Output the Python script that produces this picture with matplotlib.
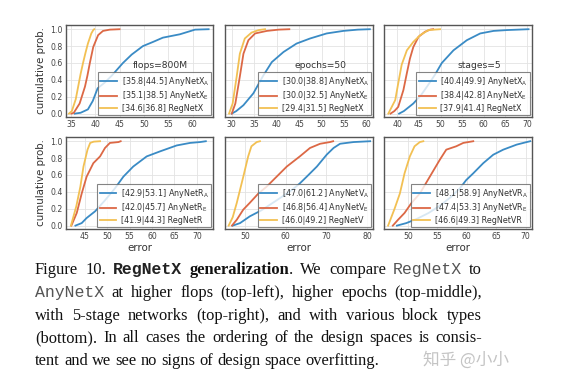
import matplotlib
matplotlib.use("Agg")
import matplotlib.pyplot as plt
from matplotlib.font_manager import FontProperties

W, H = 584, 389

# ---------------- data (error values at cumulative probability levels) ----------------
labels_x = [r"[35.8|44.5] AnyNetX$_\mathrm{A}$", r"[35.1|38.5] AnyNetX$_\mathrm{E}$", "[34.6|36.8] RegNetX"]
flops_xa_err = [35.8, 37.0, 38.5, 39.5, 40.5, 42.0, 43.4, 45.7, 47.5, 49.8, 51.9, 53.9, 57.4, 60.5, 63.3]
flops_xa_prob = [0, 0.01, 0.05, 0.15, 0.3, 0.37, 0.45, 0.6, 0.7, 0.8, 0.85, 0.9, 0.94, 0.995, 1.0]
flops_xe_err = [35.1, 35.6, 36.8, 37.9, 38.4, 38.9, 39.6, 40.6, 41.6, 43.0, 45.0]
flops_xe_prob = [0, 0.01, 0.12, 0.32, 0.45, 0.6, 0.79, 0.93, 0.98, 0.995, 1.0]
flops_reg_err = [34.6, 35.2, 36.0, 36.5, 37.0, 37.5, 38.0, 38.5, 39.2, 39.6, 39.8]
flops_reg_prob = [0, 0.03, 0.17, 0.32, 0.47, 0.6, 0.72, 0.83, 0.95, 0.99, 1.0]

labels_ep = [r"[30.0|38.8] AnyNetX$_\mathrm{A}$", r"[30.0|32.5] AnyNetX$_\mathrm{E}$", "[29.4|31.5] RegNetX"]
ep_xa_err = [30.0, 31.0, 32.6, 34.8, 37.0, 38.9, 41.5, 44.4, 47.4, 51.1, 54.8, 58.0, 60.7]
ep_xa_prob = [0, 0.03, 0.1, 0.24, 0.45, 0.61, 0.73, 0.83, 0.89, 0.95, 0.98, 0.995, 1.0]
ep_xe_err = [30.0, 30.8, 31.8, 32.6, 33.7, 35.2, 37.8, 40.4, 42.8]
ep_xe_prob = [0, 0.12, 0.44, 0.71, 0.87, 0.95, 0.98, 0.995, 1.0]
ep_reg_err = [29.4, 30.2, 31.1, 31.8, 32.9, 34.4, 36.0, 37.4]
ep_reg_prob = [0, 0.12, 0.44, 0.71, 0.89, 0.96, 0.99, 1.0]

labels_st = [r"[40.4|49.9] AnyNetX$_\mathrm{A}$", r"[38.4|42.8] AnyNetX$_\mathrm{E}$", "[37.9|41.4] RegNetX"]
st_xa_err = [40.4, 41.5, 43.7, 45.5, 47.0, 48.7, 50.3, 53.0, 56.1, 59.2, 62.3, 65.4, 70.4]
st_xa_prob = [0, 0.03, 0.12, 0.22, 0.33, 0.46, 0.6, 0.75, 0.87, 0.95, 0.98, 0.99, 1.0]
st_xe_err = [38.4, 39.3, 40.2, 41.4, 42.2, 42.9, 43.7, 44.9, 46.4, 47.6, 48.3]
st_xe_prob = [0, 0.03, 0.08, 0.28, 0.48, 0.65, 0.79, 0.91, 0.97, 0.995, 1.0]
st_reg_err = [37.9, 39.5, 40.2, 41.0, 42.2, 43.7, 45.3, 47.2, 49.9]
st_reg_prob = [0, 0.16, 0.36, 0.58, 0.75, 0.85, 0.93, 0.99, 1.0]

labels_r = [r"[42.9|53.1] AnyNetR$_\mathrm{A}$", r"[42.0|45.7] AnyNetR$_\mathrm{E}$", "[41.9|44.3] RegNetR"]
r_a_err = [42.9, 44.3, 45.4, 47.3, 49.5, 51.7, 53.6, 55.8, 58.8, 61.8, 65.5, 68.5, 70.7, 72.0]
r_a_prob = [0, 0.03, 0.09, 0.17, 0.3, 0.44, 0.58, 0.70, 0.82, 0.88, 0.95, 0.98, 0.99, 1.0]
r_e_err = [42.0, 43.2, 44.3, 45.4, 46.9, 48.4, 49.5, 50.6, 52.5, 53.0]
r_e_prob = [0, 0.15, 0.38, 0.58, 0.74, 0.82, 0.92, 0.98, 0.99, 1.0]
r_reg_err = [41.9, 43.1, 44.0, 44.7, 45.6, 46.2, 47.0, 48.4]
r_reg_prob = [0, 0.23, 0.46, 0.70, 0.90, 0.98, 0.995, 1.0]

labels_v = [r"[47.0|61.2] AnyNetV$_\mathrm{A}$", r"[46.8|56.4] AnyNetV$_\mathrm{E}$", "[46.0|49.2] RegNetV"]
v_a_err = [47.0, 48.8, 51.2, 54.0, 57.5, 61.5, 63.5, 65.2, 67.7, 70.1, 71.8, 73.4, 76.7, 80.8]
v_a_prob = [0, 0.03, 0.11, 0.18, 0.29, 0.42, 0.5, 0.58, 0.70, 0.84, 0.92, 0.97, 0.99, 1.0]
v_e_err = [46.8, 48.0, 49.6, 51.2, 53.3, 55.3, 57.8, 60.3, 63.5, 66.0, 68.5, 70.9, 71.7]
v_e_prob = [0, 0.07, 0.19, 0.27, 0.38, 0.46, 0.58, 0.70, 0.82, 0.92, 0.97, 0.99, 1.0]
v_reg_err = [46.0, 47.0, 48.0, 49.6, 50.8, 51.6, 52.9, 53.7]
v_reg_prob = [0, 0.1, 0.27, 0.58, 0.82, 0.94, 0.99, 1.0]

labels_vr = [r"[48.1|58.9] AnyNetVR$_\mathrm{A}$", r"[47.4|53.3] AnyNetVR$_\mathrm{E}$", "[46.6|49.3] RegNetVR"]
vr_a_err = [48.1, 49.7, 51.5, 53.5, 55.5, 57.3, 58.8, 59.9, 61.1, 62.8, 64.5, 66.2, 68.5, 70.2, 70.8]
vr_a_prob = [0, 0.03, 0.08, 0.15, 0.24, 0.34, 0.44, 0.54, 0.62, 0.74, 0.84, 0.90, 0.96, 0.99, 1.0]
vr_e_err = [47.4, 48.3, 49.4, 50.6, 52.0, 53.7, 55.4, 56.5, 58.2, 59.4, 61.1]
vr_e_prob = [0, 0.07, 0.15, 0.27, 0.38, 0.58, 0.78, 0.90, 0.94, 0.98, 1.0]
vr_reg_err = [46.6, 47.7, 48.6, 49.4, 50.3, 51.1, 52.0, 52.6]
vr_reg_prob = [0, 0.2, 0.38, 0.62, 0.82, 0.94, 0.99, 1.0]

panel_notes = ["flops=800M", "epochs=50", "stages=5", None, None, None]
xticks_list = [[35, 40, 45, 50, 55, 60], [30, 35, 40, 45, 50, 55, 60], [40, 45, 50, 55, 60, 65, 70],
               [45, 50, 55, 60, 65, 70], [50, 60, 70, 80], [50, 55, 60, 65, 70]]
yticks = [0.0, 0.2, 0.4, 0.6, 0.8, 1.0]

# ---------------- layout ----------------
colors = ["#3a8bc5", "#dc6845", "#f2c053"]
xlims = [(34.0, 64.2), (28.5, 61.4), (36.9, 71.2), (40.8, 73.6), (45.1, 81.5), (45.9, 71.1)]
cols_px = [(66, 213), (225, 373), (384, 532)]
rows_px = [(25, 117), (137, 229)]

panels = [
    (labels_x, [(flops_xa_err, flops_xa_prob), (flops_xe_err, flops_xe_prob), (flops_reg_err, flops_reg_prob)]),
    (labels_ep, [(ep_xa_err, ep_xa_prob), (ep_xe_err, ep_xe_prob), (ep_reg_err, ep_reg_prob)]),
    (labels_st, [(st_xa_err, st_xa_prob), (st_xe_err, st_xe_prob), (st_reg_err, st_reg_prob)]),
    (labels_r, [(r_a_err, r_a_prob), (r_e_err, r_e_prob), (r_reg_err, r_reg_prob)]),
    (labels_v, [(v_a_err, v_a_prob), (v_e_err, v_e_prob), (v_reg_err, v_reg_prob)]),
    (labels_vr, [(vr_a_err, vr_a_prob), (vr_e_err, vr_e_prob), (vr_reg_err, vr_reg_prob)]),
]

fig = plt.figure(figsize=(W / 100, H / 100), dpi=100)
fig.patch.set_facecolor("white")

for i, (labels, series) in enumerate(panels):
    r, c = divmod(i, 3)
    x0, x1 = cols_px[c]
    y0, y1 = rows_px[r]
    ax = fig.add_axes([x0 / W, 1 - y1 / H, (x1 - x0) / W, (y1 - y0) / H])
    for (err, prob), lab, col in zip(series, labels, colors):
        ax.plot(err, prob, color=col, lw=1.3, label=lab, solid_joinstyle="round")
    ax.set_xlim(*xlims[i])
    ax.set_ylim(-0.04, 1.05)
    ax.set_xticks(xticks_list[i])
    ax.set_yticks(yticks)
    ax.grid(True, color="#e3e3e3", lw=0.6)
    ax.set_axisbelow(True)
    ax.tick_params(length=0, labelsize=5.6, labelcolor="#444444", pad=2.5)
    if c != 0:
        ax.set_yticklabels([])
    else:
        ax.set_ylabel("cumulative prob.", fontsize=7.4, color="#333333", labelpad=3)
    if r == 1:
        ax.set_xlabel("error", fontsize=7.4, color="#333333", labelpad=1)
    for sp in ax.spines.values():
        sp.set_color("#555555")
        sp.set_linewidth(1.0)
    leg = ax.legend(loc="lower right", fontsize=5.8, borderaxespad=0.2, frameon=True,
                    fancybox=False, handlelength=2.1, labelspacing=0.22, borderpad=0.28,
                    handletextpad=0.6)
    leg.get_frame().set_edgecolor("#666666")
    leg.get_frame().set_linewidth(0.8)
    for t in leg.get_texts():
        t.set_color("#333333")
    if panel_notes[i]:
        ax.text(0.645, 0.555, panel_notes[i], transform=ax.transAxes, ha="center", va="center",
                fontsize=6.6, color="#333333")

# ---------------- caption (justified) ----------------
SERIF = "Liberation Serif"
MONO = "Liberation Mono"
renderer = fig.canvas.get_renderer()

def fp(style, size):
    if style == "r":
        return FontProperties(family=SERIF, size=size)
    if style == "b":
        return FontProperties(family=SERIF, size=size, weight="bold")
    if style == "m":
        return FontProperties(family=MONO, size=size)
    if style == "mb":
        return FontProperties(family=MONO, size=size, weight="bold")

def seg_width(text, style, size):
    t = fig.text(0, 0, text, fontproperties=fp(style, size))
    w = t.get_window_extent(renderer).width
    t.remove()
    return w

cap_lines = [
    [["Figure"], ["10."], [("RegNetX", "mb")], [("generalization", "b"), (".", "r")], "We", "compare",
     [("RegNetX", "m")], "to"],
    [[("AnyNetX", "m")]] + "at higher flops (top-left), higher epochs (top-middle),".split(),
    "with 5-stage networks (top-right), and with various block types".split(),
    "(bottom). In all cases the ordering of the design spaces is consis-".split(),
    "tent and we see no signs of design space overfitting.".split(),
]
norm_lines = []
for line in cap_lines:
    nl = []
    for w in line:
        if isinstance(w, str):
            nl.append([(w, "r")])
        else:
            segs = []
            for s in w:
                segs.append((s, "r") if isinstance(s, str) else s)
            nl.append(segs)
    norm_lines.append(nl)

ref_size = 10.0
def line_nat_width(words, size, space):
    tot = sum(seg_width(t, s, size) for w in words for (t, s) in w)
    return tot + space * (len(words) - 1)
sp10 = seg_width("a a", "r", ref_size) - seg_width("aa", "r", ref_size)
nat10 = line_nat_width(norm_lines[-1], ref_size, sp10)
cap_size = ref_size * 345.0 / nat10

left_px, right_px = 35.0, 482.0
baselines = [274, 297, 319.5, 342, 365]
space_px = sp10 * cap_size / ref_size
text_colors = {"r": "#111111", "b": "#111111", "m": "#555555", "mb": "#222222"}
for li, words in enumerate(norm_lines):
    widths = [[seg_width(t, s, cap_size) for (t, s) in w] for w in words]
    total = sum(sum(ws) for ws in widths)
    if li < len(norm_lines) - 1:
        gap = (right_px - left_px - total) / (len(words) - 1)
    else:
        gap = space_px
    x = left_px
    for w, ws in zip(words, widths):
        for (t, s), wd in zip(w, ws):
            fig.text(x / W, 1 - baselines[li] / H, t, fontproperties=fp(s, cap_size),
                     va="baseline", ha="left", color=text_colors[s])
            x += wd
        x += gap

fig.text(423 / W, 1 - 360 / H, "知乎 @小小", fontsize=12, va="center", ha="left",
         color="#c4c4c4", family=["Noto Sans CJK SC", "DejaVu Sans"])

fig.savefig("out.png", dpi=100, facecolor="white")
